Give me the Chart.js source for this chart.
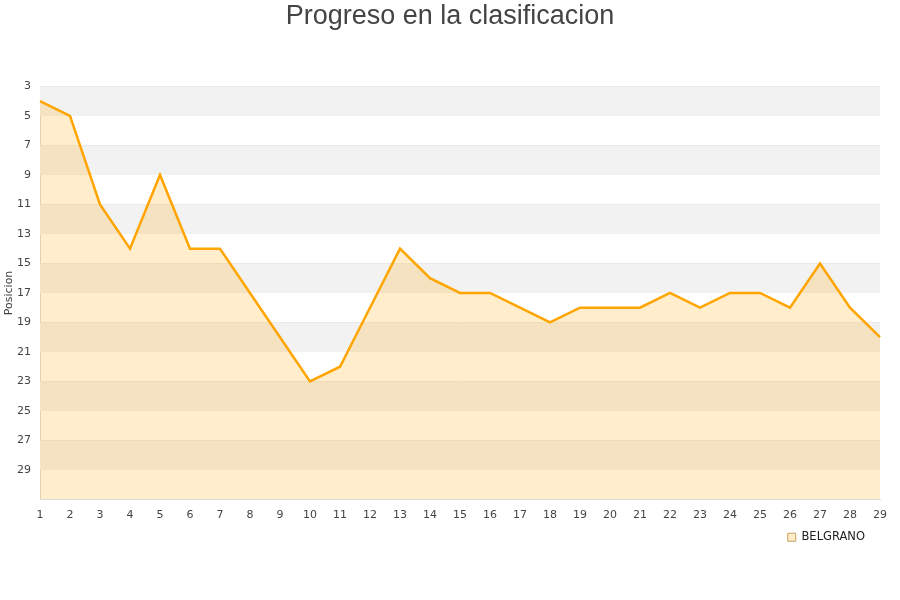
<!DOCTYPE html>
<html>
<head>
<meta charset="utf-8">
<script src="https://cdn.jsdelivr.net/npm/chart.js@4/dist/chart.umd.min.js"></script>
<style>
html,body{margin:0;padding:0;background:#fff;}
#wrap{width:900px;height:600px;}
</style>
</head>
<body>
<div id="wrap"><canvas id="c" width="900" height="600"></canvas></div>
<script>
const chartTitle = "Progreso en la clasificacion";
const jornadas = [1,2,3,4,5,6,7,8,9,10,11,12,13,14,15,16,17,18,19,20,21,22,23,24,25,26,27,28,29];
const posiciones = [4,5,11,14,9,14,14,17,20,23,22,18,14,16,17,17,18,19,18,18,18,17,18,17,17,18,15,18,20];
const teamName = "BELGRANO";
const yAxisTitle = "Posicion";
const yMin = 3, yMax = 31, yStep = 2;

const stripes = {
  id: 'stripes',
  beforeDatasetsDraw(chart) {
    const {ctx, chartArea, scales} = chart;
    const y = scales.y;
    ctx.save();
    ctx.fillStyle = '#f2f2f2';
    for (let v = yMin; v < yMax; v += yStep * 2) {
      const a = y.getPixelForValue(v), b = y.getPixelForValue(v + yStep);
      ctx.fillRect(chartArea.left, Math.min(a,b), chartArea.right - chartArea.left, Math.abs(b - a));
    }
    ctx.restore();
  }
};

const blockShift = {
  id: 'blockShift',
  afterLayout(chart) {
    if (chart.legend) { chart.legend.left -= 9; chart.legend.right -= 9; }
    if (chart.titleBlock) { chart.titleBlock.left += 10; chart.titleBlock.right += 10; }
  }
};

new Chart(document.getElementById('c'), {
  type: 'line',
  data: {
    labels: jornadas.map(String),
    datasets: [{
      label: teamName,
      data: posiciones,
      borderColor: '#ffa500',
      backgroundColor: 'rgba(255,165,0,0.2)',
      borderWidth: 2.5,
      pointRadius: 0,
      tension: 0,
      fill: 'start'
    }]
  },
  options: {
    responsive: false,
    animation: false,
    layout: {padding: {left: 0, right: 20, top: 0, bottom: 47}},
    plugins: {
      title: {
        display: true,
        text: chartTitle,
        color: '#444',
        font: {family: 'Liberation Sans, Arial, sans-serif', size: 27, weight: 'normal'},
        padding: {top: 0, bottom: 54}
      },
      legend: {
        position: 'bottom',
        align: 'end',
        labels: {
          boxWidth: 8, boxHeight: 8,
          color: '#222',
          font: {family: 'DejaVu Sans, sans-serif', size: 11.5},
          padding: 6,
          generateLabels(chart) {
            return [{text: teamName, fillStyle: '#ffecc8', strokeStyle: '#c8a060', lineWidth: 1, datasetIndex: 0, fontColor: '#222'}];
          }
        }
      },
      tooltip: {enabled: false}
    },
    scales: {
      x: {
        type: 'category',
        offset: false,
        grid: {display: false, drawTicks: false},
        border: {display: true, color: '#ddd'},
        ticks: {color: '#444', font: {family: 'DejaVu Sans, sans-serif', size: 11}, padding: 9, maxRotation: 0, autoSkip: false},
        afterFit(s) { s.height = 26; }
      },
      y: {
        reverse: true,
        min: yMin, max: yMax,
        grid: {color: '#e0e0e0', drawTicks: false},
        border: {display: true, color: '#ddd'},
        ticks: {
          stepSize: yStep,
          color: '#444',
          font: {family: 'DejaVu Sans, sans-serif', size: 11},
          padding: 9,
          callback: v => v === yMax ? '' : v
        },
        title: {display: true, text: yAxisTitle, color: '#444', font: {family: 'DejaVu Sans, sans-serif', size: 11}, padding: {top: 3, bottom: 0}},
        afterFit(s) { s.width = 40; }
      }
    }
  },
  plugins: [stripes, blockShift]
});
</script>
</body>
</html>
